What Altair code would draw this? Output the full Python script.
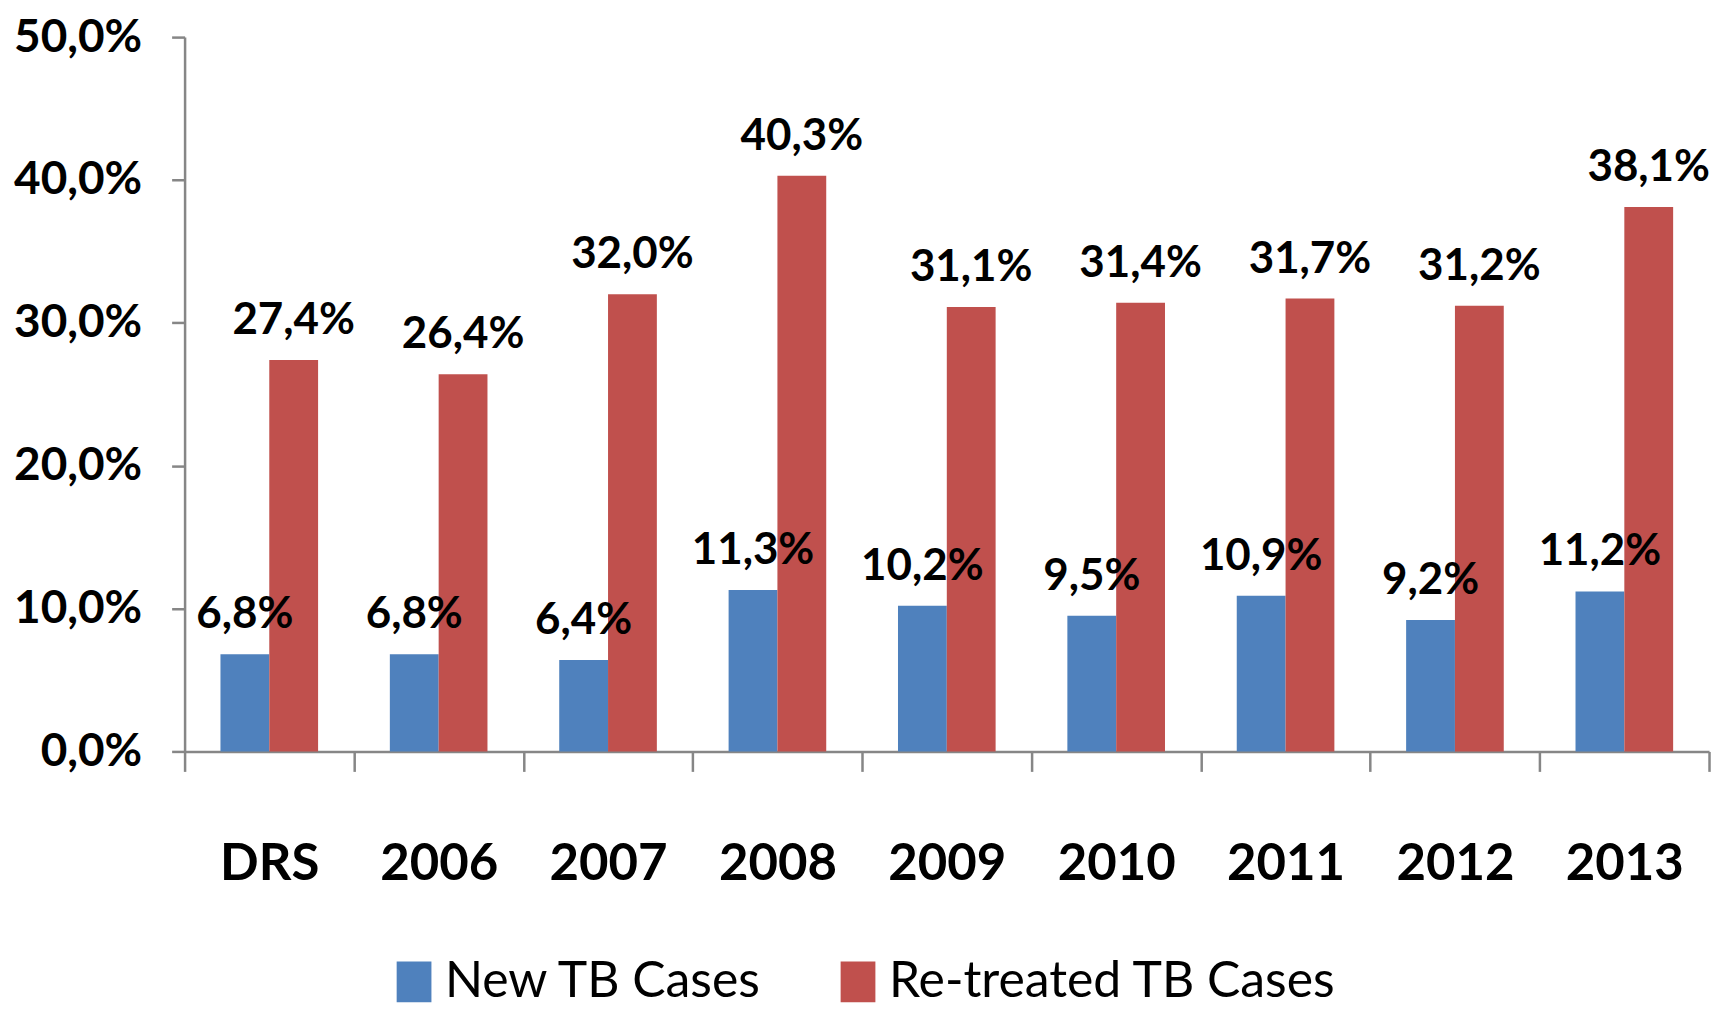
import altair as alt
import pandas as pd

categories = ["DRS", "2006", "2007", "2008", "2009", "2010", "2011", "2012", "2013"]
series = ["New TB Cases", "Re-treated TB Cases"]
new_cases = [6.8, 6.8, 6.4, 11.3, 10.2, 9.5, 10.9, 9.2, 11.2]
retreated_cases = [27.4, 26.4, 32.0, 40.3, 31.1, 31.4, 31.7, 31.2, 38.1]
y_ticks = [0, 10, 20, 30, 40, 50]
colors = ["#4F81BD", "#C0504D"]

rows = []
for c, a, b in zip(categories, new_cases, retreated_cases):
    rows.append({"category": c, "series": series[0], "value": a})
    rows.append({"category": c, "series": series[1], "value": b})
df = pd.DataFrame(rows)

AX = "#868686"
FONT = "Lato"

base = alt.Chart(df).encode(
    x=alt.X(
        "category:N",
        sort=categories,
        scale=alt.Scale(paddingInner=0, paddingOuter=0),
        axis=alt.Axis(
            title=None, labelAngle=0, labelFont=FONT, labelFontWeight="bold",
            labelFontSize=51, labelColor="black", labelPadding=68,
            tickBand="extent", tickSize=20, tickColor=AX, tickWidth=2.5,
            domainColor=AX, domainWidth=2.5,
        ),
    ),
    xOffset=alt.XOffset(
        "series:N", sort=series,
        scale=alt.Scale(paddingInner=0, paddingOuter=0.735),
    ),
    y=alt.Y(
        "value:Q",
        scale=alt.Scale(domain=[0, 50], nice=False),
        axis=alt.Axis(
            title=None, values=y_ticks, grid=False,
            labelExpr="replace(format(datum.value, '.1f'), '.', ',') + '%'",
            labelFont=FONT, labelFontWeight="bold", labelFontSize=46,
            labelColor="black", labelPadding=30,
            tickSize=13, tickColor=AX, tickWidth=2.5,
            domainColor=AX, domainWidth=2.5,
        ),
    ),
)

bars = base.mark_bar().encode(
    color=alt.Color(
        "series:N",
        sort=series,
        scale=alt.Scale(domain=series, range=colors),
        legend=alt.Legend(
            title=None, orient="none", direction="horizontal",
            legendX=205, legendY=922,
            symbolType="M-0.85,-1L0.85,-1L0.85,1L-0.85,1Z",
            symbolSize=1681, symbolStrokeWidth=0, symbolOpacity=1,
            labelFont=FONT, labelFontSize=50, labelColor="black",
            labelOffset=6, columnPadding=70, labelLimit=600,
        ),
    )
)

labels = base.transform_calculate(
    label="replace(format(datum.value, '.1f'), '.', ',') + '%'"
).mark_text(
    font=FONT, fontWeight="bold", fontSize=44, color="black",
    baseline="alphabetic", dy=-26,
).encode(text="label:N")

chart = (
    alt.layer(bars, labels)
    .properties(width=1528, height=716, padding={"left": 5, "top": 5, "right": 5, "bottom": 0})
    .configure_view(stroke=None)
)

chart.save("out.html", embed_options={"renderer": "svg", "actions": False})
